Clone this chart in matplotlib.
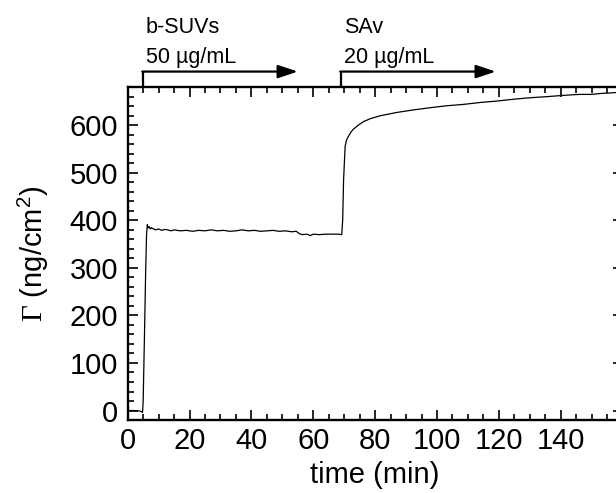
import numpy as np
import matplotlib
matplotlib.use('Agg')
import matplotlib.pyplot as plt

plt.rcParams['font.family'] = ['Liberation Sans', 'DejaVu Sans']
plt.rcParams['mathtext.fontset'] = 'custom'
plt.rcParams['mathtext.rm'] = 'Liberation Sans'
plt.rcParams['mathtext.sf'] = 'Liberation Serif'

# QCM-D adsorption trace
time_min = [0, 2, 4, 4.6, 4.8, 5.0, 5.4, 5.8, 6.1, 6.35, 6.6, 6.9, 7.3, 7.7,
            8, 9, 10, 11, 12, 13, 14, 15, 17, 19, 21, 23, 25, 27, 29, 31, 33,
            35, 37, 39, 41, 43, 45, 47, 49, 51, 53, 54.5, 55.5, 56.5, 58, 59,
            60, 62, 64, 66, 68, 69.2, 69.5, 69.8, 70.3, 70.8, 71.4, 72.2, 73,
            74.5, 76.3, 78.5, 81.6, 87, 92, 97.8, 103, 108.6, 114, 119.4, 125,
            130.2, 135, 141, 146, 150, 153, 156, 158, 160]
gamma = [0, 0, -1, -3, -4, 20, 150, 290, 370, 391, 384, 387, 382, 385,
         383, 380, 382, 379, 381, 380, 378, 380, 378, 379, 377, 379, 378, 380,
         378, 379, 377, 378, 380, 378, 379, 377, 378, 379, 377, 378, 376, 377,
         372, 370, 371, 368, 371, 370, 371, 371, 371, 370, 400, 486, 556, 570,
         577, 586, 592, 600, 608, 614, 620, 627, 632, 637, 641, 644, 648, 651,
         655, 658, 660, 663, 665, 665, 667, 668, 669, 670]

xticks = [0, 20, 40, 60, 80, 100, 120, 140, 160]
xtick_labels = ['0', '20', '40', '60', '80', '100', '120', '140', '']
yticks = [0, 100, 200, 300, 400, 500, 600]

# injection steps: (start, end, name, concentration)
steps = [(5, 55, 'b-SUVs', '50 µg/mL'),
         (69, 119, 'SAv', '20 µg/mL')]

fig = plt.figure(figsize=(6.16, 4.93), dpi=100)
ax = fig.add_axes([0.2073, 0.148, 0.8034, 0.675])

ax.plot(time_min, gamma, color='black', lw=0.9)

ax.set_xlim(0, 160)
ax.set_ylim(-20, 680)
ax.set_xticks(xticks)
ax.set_xticklabels(xtick_labels)
ax.set_yticks(yticks)
ax.set_xticks(np.arange(0, 161, 5), minor=True)
ax.set_yticks(np.arange(-20, 681, 20), minor=True)

for s in ax.spines.values():
    s.set_linewidth(1.7)
ax.tick_params(which='both', direction='in', top=True, right=True,
               labelsize=21, width=1.2)
ax.tick_params(which='major', length=7.5)
ax.tick_params(which='minor', length=4)
ax.tick_params(axis='x', pad=5)
ax.tick_params(axis='y', pad=7)

ax.set_xlabel('time (min)', fontsize=21, labelpad=4)
ax.set_ylabel(r'$\mathsf{\Gamma}$ (ng/cm$^{\mathrm{2}}$)', fontsize=21, labelpad=13)

# arrows above the plot marking each injection
y_arrow = 713
for start, end, name, conc in steps:
    ax.plot([start, start], [680, y_arrow], color='black', lw=1.6, clip_on=False,
            solid_capstyle='butt')
    ax.annotate('', xy=(end, y_arrow), xytext=(start - 0.3, y_arrow),
                annotation_clip=False,
                arrowprops=dict(arrowstyle='-|>,head_length=1.2,head_width=0.4',
                                mutation_scale=10, lw=1.6, color='black',
                                shrinkA=0, shrinkB=0))
    ax.text(start + 0.9, 795, name, fontsize=15.5, va='baseline', ha='left')
    ax.text(start + 0.9, 732, conc, fontsize=15.5, va='baseline', ha='left')

fig.savefig('out.png', dpi=100)
